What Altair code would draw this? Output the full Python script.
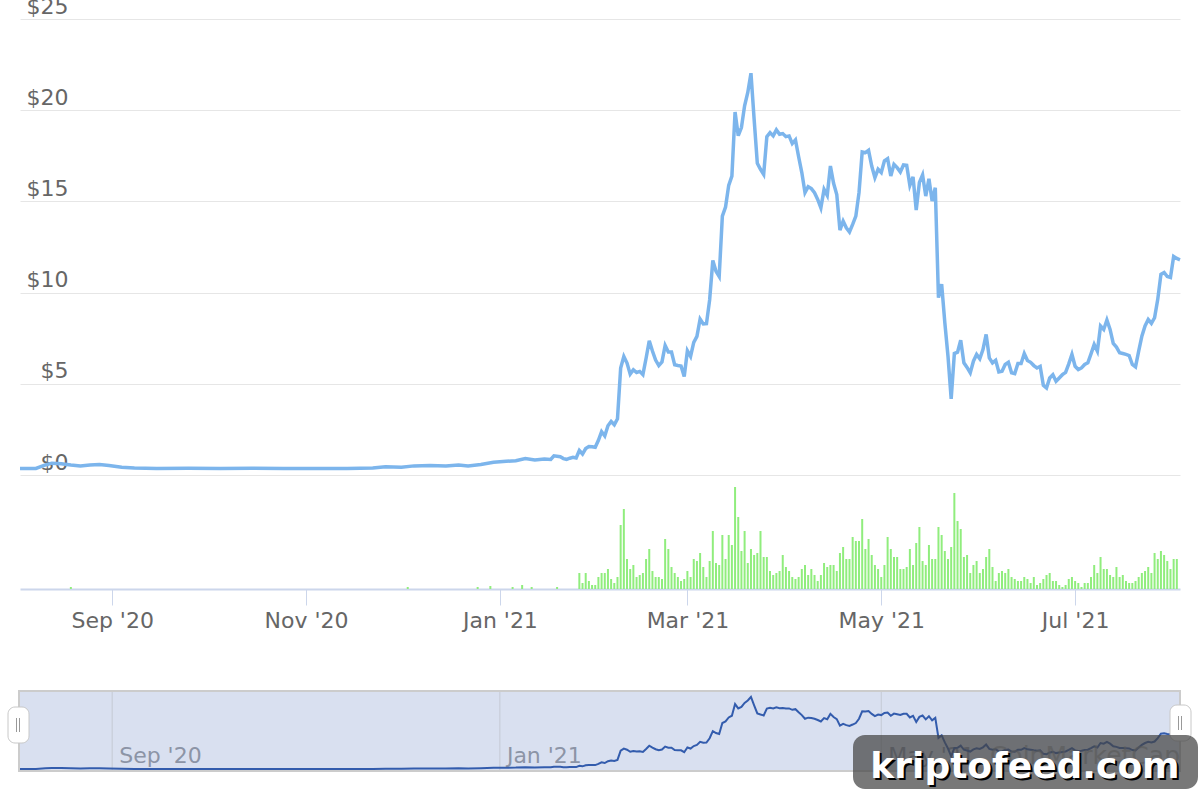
import altair as alt
import pandas as pd

# ---------------- data ----------------
early_dates = ["2020-08-03", "2020-08-08", "2020-08-11", "2020-08-13", "2020-08-16",
               "2020-08-19", "2020-08-22", "2020-08-25", "2020-08-28", "2020-08-31",
               "2020-09-04", "2020-09-08", "2020-09-15", "2020-09-25", "2020-10-05",
               "2020-10-15", "2020-10-25", "2020-11-04", "2020-11-14", "2020-11-22",
               "2020-11-26", "2020-12-01", "2020-12-05", "2020-12-10", "2020-12-15",
               "2020-12-19", "2020-12-22", "2020-12-26", "2020-12-30", "2021-01-03",
               "2021-01-06", "2021-01-09", "2021-01-12", "2021-01-15", "2021-01-17",
               "2021-01-18"]
early_prices = [0.35, 0.36, 0.55, 0.65, 0.62, 0.55, 0.5, 0.55, 0.58, 0.52,
                0.42, 0.38, 0.36, 0.37, 0.36, 0.37, 0.36, 0.35, 0.36, 0.38,
                0.45, 0.43, 0.5, 0.52, 0.5, 0.55, 0.5, 0.58, 0.7, 0.75,
                0.78, 0.9, 0.82, 0.88, 0.85, 1.05]

daily_start = "2021-01-20"
daily_prices = [
    1.0, 0.9, 0.86, 0.92, 0.97, 0.93, 1.34, 1.15, 1.45, 1.56,
    1.55, 1.52, 1.9, 2.38, 2.14, 2.7, 2.93, 2.75, 3.08, 5.86,
    6.5, 6.14, 5.53, 5.77, 5.62, 5.68, 5.5, 6.4, 7.36, 6.8,
    6.3, 6.0, 6.2, 7.1, 6.74, 6.74, 6.04, 6.0, 5.97, 5.4,
    6.81, 6.5, 7.27, 7.6, 8.55, 8.28, 8.3, 9.6, 11.76, 11.17,
    10.88, 14.19, 14.69, 15.88, 16.39, 19.9, 18.6, 19.05, 20.24, 20.97,
    22.03, 19.5, 17.09, 16.76, 16.48, 18.55, 18.77, 18.59, 18.92, 18.68,
    18.72, 18.55, 18.59, 18.17, 18.37, 17.45, 16.58, 15.48, 15.81, 15.7,
    15.48, 15.11, 14.65, 15.66, 15.33, 16.94, 15.99, 15.38, 13.42, 13.92,
    13.55, 13.32, 13.74, 14.19, 15.48, 17.71, 17.67, 17.8, 16.94, 16.3,
    16.76, 16.58, 17.22, 17.34, 16.39, 17.03, 16.85, 16.61, 17.0, 16.98,
    15.88, 16.34, 14.52, 16.04, 16.45, 15.29, 16.24, 15.02, 15.75,
    9.72, 10.46, 8.35, 6.51, 4.17, 6.66, 6.73, 7.39, 6.15, 5.9,
    5.6, 6.24, 6.61, 6.37, 6.88, 7.71, 6.42, 6.15, 6.29, 5.65,
    5.69, 6.06, 6.18, 5.6, 5.56, 6.11, 6.11, 6.66, 6.28, 6.18,
    6.0, 5.87, 5.96, 4.92, 4.77, 5.32, 5.5, 5.14, 5.32, 5.5,
    5.63, 6.09, 6.61, 5.96, 5.78, 5.87, 6.06, 6.15, 6.64, 7.16,
    6.79, 8.17, 7.98, 8.5, 7.98, 7.21, 7.01, 6.7, 6.66, 6.61,
    6.55, 6.06, 5.93, 6.79, 7.61, 8.17, 8.53, 8.31, 8.62, 9.63,
    11.0, 11.1, 10.88, 10.83, 11.98, 11.87, 11.8]

vol_early_dates = ["2020-08-19", "2020-12-03", "2020-12-25", "2020-12-29",
                   "2021-01-05", "2021-01-08", "2021-01-11", "2021-01-19"]
vol_early_values = [2, 2, 2, 3, 2, 4, 2, 2]

vol_start = "2021-01-26"
vol_daily = [
    16, 6, 16, 8, 4, 4, 12, 16, 16, 20,
    10, 6, 12, 64, 80, 30, 20, 24, 12, 14,
    16, 30, 40, 18, 12, 12, 10, 50, 40, 22,
    16, 12, 8, 10, 18, 12, 30, 28, 36, 22,
    12, 28, 58, 26, 24, 54, 30, 54, 44, 102,
    72, 38, 58, 26, 40, 34, 36, 58, 32, 32,
    18, 14, 16, 18, 34, 22, 18, 12, 10, 12,
    20, 24, 14, 20, 14, 8, 14, 26, 22, 24,
    24, 18, 36, 42, 30, 30, 52, 48, 48, 70,
    40, 50, 34, 24, 20,
    12, 24, 52, 40, 32, 32, 20, 20, 22, 40,
    24, 46, 62, 28, 24, 44, 30, 30, 62, 54,
    38, 30, 42, 96, 68, 60, 32, 34, 16, 24,
    28, 16, 20, 32, 40, 22, 8, 16, 18, 16,
    20, 12, 10, 8, 8, 12, 10, 6, 12, 4,
    6, 10, 14, 16, 8, 8, 4, 2, 4, 10,
    12, 8, 6, 2, 6, 6, 12, 24, 16, 32,
    20, 20, 14, 12, 22, 12, 14, 8, 6, 6,
    8, 12, 16, 18, 22, 16, 36, 30, 38, 34,
    28, 20, 30, 30]

x_tick_months = [(2020, 9), (2020, 11), (2021, 1), (2021, 3), (2021, 5), (2021, 7)]
y_tick_values = [0, 5, 10, 15, 20, 25]
nav_tick_dates = ["2020-09-01", "2021-01-01", "2021-05-01"]
nav_tick_labels = ["Sep '20", "Jan '21", "May '21"]
watermark_text = "CoinMarketCap"
brand_text = "kriptofeed.com"

# ---------------- tables ----------------
daily_dates = pd.date_range(daily_start, periods=len(daily_prices), freq="D").strftime("%Y-%m-%d").tolist()
price_df = pd.DataFrame({"date": early_dates + daily_dates, "price": early_prices + daily_prices})

vol_dates = pd.date_range(vol_start, periods=len(vol_daily), freq="D").strftime("%Y-%m-%d").tolist()
vol_df = pd.DataFrame({"date": vol_early_dates + vol_dates, "volume": vol_early_values + vol_daily})

nav_df = pd.DataFrame({"date": nav_tick_dates, "label": nav_tick_labels})
one = pd.DataFrame({"k": [0]})

FONT = "DejaVu Sans"

x_axis = alt.Axis(
    values=[alt.DateTime(year=y, month=m, date=1, utc=True) for y, m in x_tick_months],
    format="%b '%y", labelFont=FONT, labelFontSize=22, labelColor="#666666",
    tickColor="#ccd6eb", tickSize=16, tickWidth=1, domainColor="#ccd6eb", domainWidth=2,
    offset=-182, labelPadding=5, grid=False, title=None, labelFlush=False, labelOverlap=False)

y_axis = alt.Axis(
    values=y_tick_values, labelExpr="'$' + datum.value", grid=True, gridColor="#e6e6e6",
    gridWidth=1, domain=False, ticks=False, tickSize=0, labelAlign="right", labelPadding=-48,
    labelBaseline="alphabetic", labelOffset=-6, labelFont=FONT, labelFontSize=22,
    labelColor="#666666", title=None)

xscale = alt.Scale(type="utc", nice=False, padding=0)

price_line = alt.Chart(price_df).mark_line(color="#7cb5ec", strokeWidth=3.5).encode(
    x=alt.X("date:T", scale=xscale, axis=x_axis),
    y=alt.Y("price:Q", scale=alt.Scale(domain=[0, 25], range=[456, 0], nice=False, zero=False), axis=y_axis),
)

vol_bars = alt.Chart(vol_df).mark_bar(color="#90ed7d", width=2).encode(
    x=alt.X("date:T"),
    y=alt.Y("volume:Q", scale=alt.Scale(domain=[0, 105], range=[570, 465], nice=False), axis=None),
)

nav_bg = alt.Chart(one).mark_rect(color="#6685c2", opacity=0.25).encode(
    x=alt.value(0), x2=alt.value(1160), y=alt.value(672), y2=alt.value(752))

nav_grid = alt.Chart(nav_df).mark_rule(color="#c4c9d4", strokeWidth=1).encode(
    x=alt.X("date:T"), y=alt.value(672), y2=alt.value(752))

nav_labels = alt.Chart(nav_df).mark_text(
    align="left", baseline="alphabetic", dx=7, font=FONT, fontSize=22, color="#8c94a6").encode(
    x=alt.X("date:T"), y=alt.value(744), text="label:N")

nav_line = alt.Chart(price_df).mark_line(color="#335cad", strokeWidth=2).encode(
    x=alt.X("date:T"),
    y=alt.Y("price:Q", scale=alt.Scale(domain=[0.35, 22.03], range=[750, 678], nice=False, zero=False), axis=None),
)

nav_outline = alt.Chart(one).mark_rect(fillOpacity=0, stroke="#cccccc", strokeWidth=2).encode(
    x=alt.value(-1), x2=alt.value(1160), y=alt.value(672), y2=alt.value(752))

watermark = alt.Chart(one).mark_text(
    text=watermark_text, align="right", baseline="alphabetic", font=FONT, fontSize=25,
    color="#8f8f8f", opacity=0.6).encode(x=alt.value(1160), y=alt.value(745))

handle_l = alt.Chart(one).mark_rect(fill="white", stroke="#c8c8c8", strokeWidth=1, cornerRadius=7).encode(
    x=alt.value(-12), x2=alt.value(9), y=alt.value(688), y2=alt.value(724))
handle_r = alt.Chart(one).mark_rect(fill="white", stroke="#c8c8c8", strokeWidth=1, cornerRadius=7).encode(
    x=alt.value(1150), x2=alt.value(1171), y=alt.value(686), y2=alt.value(722))
grips = [
    alt.Chart(one).mark_rule(color="#999999", strokeWidth=1).encode(
        x=alt.value(gx), y=alt.value(gy), y2=alt.value(gy + 14))
    for gx, gy in [(-3.5, 699), (-0.5, 699), (1158.5, 697), (1161.5, 697)]
]

brand_box = alt.Chart(one).mark_rect(color="#444444", opacity=0.72, cornerRadius=12).encode(
    x=alt.value(833), x2=alt.value(1178), y=alt.value(716), y2=alt.value(770))
brand_shadow = alt.Chart(one).mark_text(
    text=brand_text, align="center", baseline="alphabetic", font=FONT, fontSize=36,
    fontWeight="bold", color="black").encode(x=alt.value(1007), y=alt.value(761))
brand_text_mark = alt.Chart(one).mark_text(
    text=brand_text, align="center", baseline="alphabetic", font=FONT, fontSize=36,
    fontWeight="bold", color="white").encode(x=alt.value(1005), y=alt.value(759))

chart = alt.layer(
    price_line, vol_bars, nav_bg, nav_grid, nav_labels, nav_line, nav_outline,
    watermark, handle_l, handle_r, *grips, brand_box, brand_shadow, brand_text_mark
).resolve_scale(y="independent").properties(
    width=1160, height=752,
    padding={"left": 20, "top": 19, "right": 20, "bottom": 29},
    autosize=alt.AutoSizeParams(type="none"),
    background="white",
).configure_view(strokeWidth=0)

chart.save("out.html", embed_options={"renderer": "svg", "actions": False})
